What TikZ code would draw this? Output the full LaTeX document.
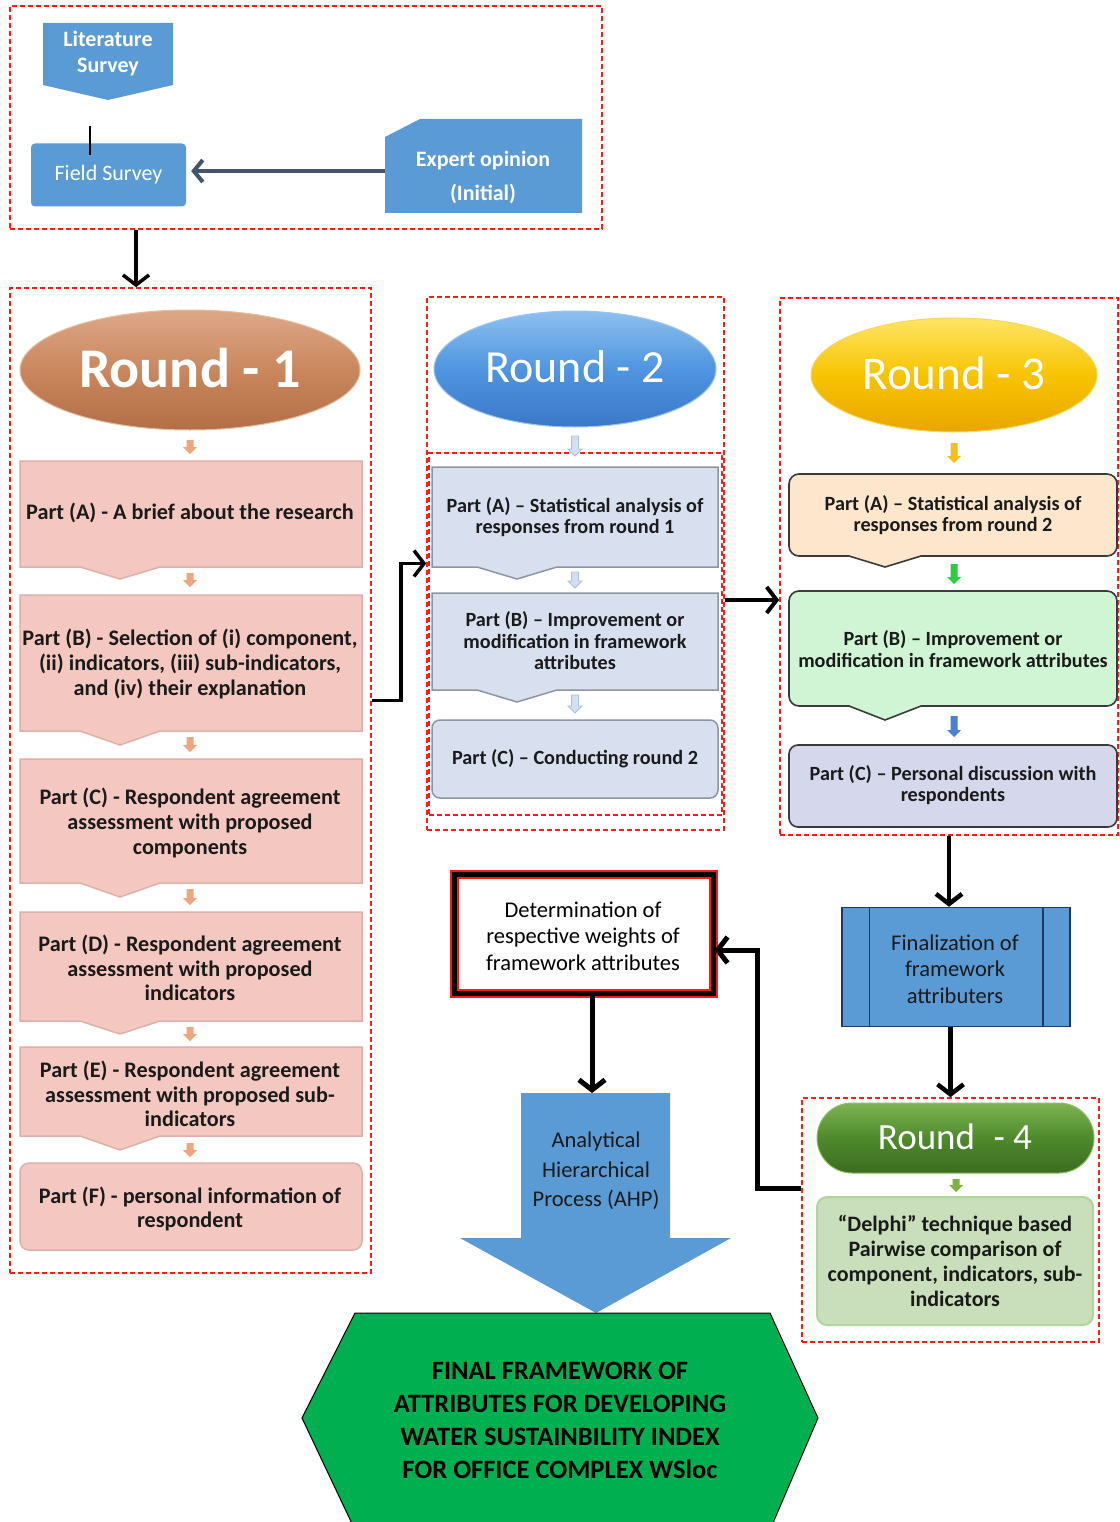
\documentclass[tikz,border=0pt]{standalone}
\usepackage{fontspec}
\setmainfont{Carlito}
\usetikzlibrary{arrows.meta,shapes.geometric,calc}
\definecolor{boxblue}{HTML}{5B9BD5}
\definecolor{slate}{HTML}{44546A}
\definecolor{ddred}{HTML}{FF1A1A}
\definecolor{pinkfill}{HTML}{F4C8C1}
\definecolor{pinkline}{HTML}{DDB0A9}
\definecolor{pinkarr}{HTML}{EFA57E}
\definecolor{bluefill}{HTML}{D8E0F0}
\definecolor{blueline}{HTML}{8E95A2}
\definecolor{palearr}{HTML}{D3E0F3}
\definecolor{palearrl}{HTML}{A8C0E4}
\definecolor{peach}{HTML}{FDE6CC}
\definecolor{mint}{HTML}{D0F5D4}
\definecolor{lav}{HTML}{D5D8EC}
\definecolor{darkline}{HTML}{3A3A3A}
\definecolor{goldarr}{HTML}{F5BE1A}
\definecolor{greenarr}{HTML}{2ECC40}
\definecolor{bluearr}{HTML}{4A7FD6}
\definecolor{smallgreen}{HTML}{7CB342}
\definecolor{delphi}{HTML}{C9DEBA}
\definecolor{delphil}{HTML}{B3D39A}
\definecolor{navy}{HTML}{1F3864}
\definecolor{finalgreen}{HTML}{00B050}
\definecolor{txt}{HTML}{1A1A1A}
\definecolor{ra}{HTML}{DDA888}
\definecolor{rb}{HTML}{C9875E}
\definecolor{rc}{HTML}{B36E46}
\definecolor{rd}{HTML}{E6BC9E}
\definecolor{ba}{HTML}{8DC0F0}
\definecolor{bb}{HTML}{4F95E0}
\definecolor{bc}{HTML}{3B78C8}
\definecolor{bd}{HTML}{9CC6EE}
\definecolor{ya}{HTML}{FFE566}
\definecolor{yb}{HTML}{F7C400}
\definecolor{yc}{HTML}{E9A600}
\definecolor{yd}{HTML}{F8D65A}
\definecolor{ga}{HTML}{7DB352}
\definecolor{gb}{HTML}{4E8A2C}
\definecolor{gc}{HTML}{3C6B20}
\definecolor{gd}{HTML}{8DBF62}
\newcommand\setfs[2]{\fontsize{#1}{#2}\selectfont}
\newcommand\notchbox[8]{\path[#8] (#1,#2) -- (#3,#2) -- (#3,#4) -- ({#5+#7},#4) -- (#5,#6) -- ({#5-#7},#4) -- (#1,#4) -- cycle;}
\newcommand\rnotchbox[8]{\path[#8] ({#5-#7},#4) [rounded corners=10pt] -- (#1,#4) -- (#1,#2) -- (#3,#2) -- (#3,#4) [sharp corners] -- ({#5+#7},#4) -- (#5,#6) -- cycle;}
\newcommand\dnarrow[4]{\path[#4] ({#1-3.5},#2) -- ({#1+3.5},#2) -- ({#1+3.5},{#3-7}) -- ({#1+7},{#3-7}) -- (#1,#3) -- ({#1-7},{#3-7}) -- ({#1-3.5},{#3-7}) -- cycle;}
\tikzset{
  dbox/.style={draw=ddred, dash pattern=on 5pt off 3pt, line width=1.6pt, inner sep=0pt},
  conn/.style={draw=black, line width=4pt, -{Straight Barb[length=10pt,width=26pt]}},
  r1txt/.style={align=center, font=\setfs{22.2}{24.8}\bfseries, text=txt},
  r2txt/.style={align=center, font=\setfs{20.2}{21.5}\bfseries, text=txt},
  roundlbl/.style={text=white, inner sep=0pt},
}
\begin{document}
\begin{tikzpicture}[x=1pt,y=-1pt]
\useasboundingbox (0,0) rectangle (1119,1522);
\fill[white] (0,0) rectangle (1119,1522);

% ---------- top block ----------
\node[dbox, minimum width=592pt, minimum height=223pt] (topbox) at (306,117.5) {};
\path[fill=boxblue] (43,23) -- (173,23) -- (173,85) -- (108,100) -- (43,85) -- cycle;
\node[align=center, text=white, font=\setfs{22}{26}\bfseries] (lit) at (108,54) {Literature\\Survey};
\node[fill=boxblue, rounded corners=4pt, minimum width=155pt, minimum height=63pt, text=white, font=\setfs{22}{24}] (field) at (108.5,175) {Field Survey};
\draw[black, line width=1.2pt] (90,126) -- (90,155);
\node[minimum width=197pt, minimum height=94pt, inner sep=0pt] (expert) at (483.5,166) {};
\path[fill=boxblue] (385,137) -- (420,119) -- (582,119) -- (582,213) -- (385,213) -- cycle;
\node[align=center, text=white, font=\setfs{22}{34}\bfseries] (experttxt) at (483,177) {Expert opinion\\(Initial)};
\draw[draw=slate, line width=4pt, -{Straight Barb[length=9pt,width=22pt]}, shorten >=5pt]
  ([yshift=-5pt]expert.west) coordinate (ea) -- (ea -| field.east);

% ---------- Round 1 ----------
\node[dbox, minimum width=361pt, minimum height=985pt] (r1box) at (190.5,780.5) {};
\node[ellipse, minimum width=340pt, minimum height=120pt, top color=ra, bottom color=rc, middle color=rb, draw=rd, line width=1pt] (r1) at (190,370) {};
\node[roundlbl, font=\setfs{56}{60}\bfseries] (r1t) at (190,368) {Round - 1};
\dnarrow{190}{440}{454}{fill=pinkarr}
\notchbox{20}{461}{362}{567}{120}{579}{40}{fill=pinkfill, draw=pinkline, line width=1.5pt}
\node[r1txt] (p1a) at (190,513) {Part (A) - A brief about the research};
\dnarrow{190}{573}{587}{fill=pinkarr}
\notchbox{20}{595}{362}{731}{120}{745}{40}{fill=pinkfill, draw=pinkline, line width=1.5pt}
\node[r1txt] (p1b) at (190,664) {Part (B) - Selection of (i) component,\\(ii) indicators, (iii) sub-indicators,\\and (iv) their explanation};
\dnarrow{190}{737}{752}{fill=pinkarr}
\notchbox{20}{759}{362}{883}{120}{897}{40}{fill=pinkfill, draw=pinkline, line width=1.5pt}
\node[r1txt] (p1c) at (190,823) {Part (C) - Respondent agreement\\assessment with proposed\\components};
\dnarrow{190}{889}{905}{fill=pinkarr}
\notchbox{20}{912}{362}{1021}{120}{1034}{40}{fill=pinkfill, draw=pinkline, line width=1.5pt}
\node[r1txt] (p1d) at (190,968) {Part (D) - Respondent agreement\\assessment with proposed\\indicators};
\dnarrow{190}{1027}{1041}{fill=pinkarr}
\notchbox{20}{1047}{362}{1136}{120}{1150}{40}{fill=pinkfill, draw=pinkline, line width=1.5pt}
\node[r1txt] (p1e) at (190,1094) {Part (E) - Respondent agreement\\assessment with proposed sub-\\indicators};
\dnarrow{190}{1143}{1157}{fill=pinkarr}
\node[fill=pinkfill, draw=pinkline, line width=1.5pt, rounded corners=9pt, minimum width=342pt, minimum height=87pt] (p1fbox) at (191,1206.5) {};
\node[r1txt] (p1f) at (190,1209) {Part (F) - personal information of\\respondent};

% ---------- Round 2 ----------
\node[dbox, minimum width=297pt, minimum height=533pt] (r2box) at (575.5,563.5) {};
\node[dbox, minimum width=293pt, minimum height=362pt] (r2inner) at (575.5,634) {};
\node[ellipse, minimum width=282pt, minimum height=116pt, top color=ba, bottom color=bc, middle color=bb, draw=bd, line width=1pt] (r2) at (575,369) {};
\node[roundlbl, font=\setfs{46}{50}] (r2t) at (575,367) {Round - 2};
\dnarrow{575}{436}{456}{fill=palearr, draw=palearrl, line width=0.8pt}
\notchbox{432}{467}{718}{567}{517}{579}{40}{fill=bluefill, draw=blueline, line width=1.5pt}
\node[r2txt] (p2a) at (575,517) {Part (A) – Statistical analysis of\\responses from round 1};
\dnarrow{575}{572}{588}{fill=palearr, draw=palearrl, line width=0.8pt}
\notchbox{432}{593}{718}{690}{517}{702}{40}{fill=bluefill, draw=blueline, line width=1.5pt}
\node[r2txt] (p2b) at (575,641) {Part (B) – Improvement or\\modification in framework\\attributes};
\dnarrow{575}{695}{713}{fill=palearr, draw=palearrl, line width=0.8pt}
\node[fill=bluefill, draw=blueline, line width=1.5pt, rounded corners=8pt, minimum width=286pt, minimum height=78pt] (p2cbox) at (575,759) {};
\node[r2txt] (p2c) at (575,759) {Part (C) – Conducting round 2};

% ---------- Round 3 ----------
\node[dbox, minimum width=338pt, minimum height=537pt] (r3box) at (949,566.5) {};
\node[ellipse, minimum width=286pt, minimum height=114pt, top color=ya, bottom color=yc, middle color=yb, draw=yd, line width=1pt] (r3) at (954,375) {};
\node[roundlbl, font=\setfs{47}{50}] (r3t) at (954,373) {Round - 3};
\dnarrow{954}{443}{463}{fill=goldarr}
\rnotchbox{789}{474}{1117}{556}{885}{567}{36}{fill=peach, draw=darkline, line width=1.6pt}
\node[r2txt] (p3a) at (953,515) {Part (A) – Statistical analysis of\\responses from round 2};
\dnarrow{954}{564}{584}{fill=greenarr}
\rnotchbox{789}{591}{1117}{706}{885}{720}{36}{fill=mint, draw=darkline, line width=1.6pt}
\node[r2txt] (p3b) at (953,649) {Part (B) – Improvement or\\modification in framework attributes};
\dnarrow{954}{716}{737}{fill=bluearr}
\node[fill=lav, draw=darkline, line width=1.6pt, rounded corners=9pt, minimum width=328pt, minimum height=82pt] (p3cbox) at (953,786) {};
\node[r2txt] (p3c) at (953,785) {Part (C) – Personal discussion with\\respondents};

% ---------- Finalization / Determination ----------
\node[fill=boxblue, draw=navy, line width=1.5pt, minimum width=228pt, minimum height=119pt] (fin) at (956,967) {};
\draw[navy, line width=1.5pt] ([xshift=28pt]fin.north west) -- ([xshift=28pt]fin.south west);
\draw[navy, line width=1.5pt] ([xshift=-28pt]fin.north east) -- ([xshift=-28pt]fin.south east);
\node[align=center, text=txt, font=\setfs{22.5}{26.5}] (fintxt) at (955,969) {Finalization of\\framework\\attributers};

\node[fill=white, draw=ddred, line width=1.8pt, double=black, double distance=5.5pt, minimum width=259pt, minimum height=119pt] (det) at (584,934) {};
\node[align=center, text=black, font=\setfs{22.5}{26.5}] (dettxt) at (583,936) {Determination of\\respective weights of\\framework attributes};

% ---------- AHP ----------
\path[fill=boxblue] (521,1093) -- (670,1093) -- (670,1238) -- (731,1238) -- (596,1313) -- (460,1238) -- (521,1238) -- cycle;
\coordinate (ahptop) at (592,1093);
\node[align=center, text=txt, font=\setfs{22.5}{29.5}] (ahp) at (596,1171) {Analytical\\Hierarchical\\Process (AHP)};

% ---------- Round 4 ----------
\node[dbox, minimum width=297pt, minimum height=244pt] (r4box) at (950.5,1220) {};
\node[rounded corners=35pt, minimum width=277pt, minimum height=70pt, top color=ga, bottom color=gc, middle color=gb, draw=gd, line width=1pt] (r4) at (955.5,1138) {};
\node[roundlbl, font=\setfs{37}{40}] (r4t) at (955,1137) {Round\enspace- 4};
\dnarrow{956}{1179}{1192}{fill=smallgreen}
\node[fill=delphi, draw=delphil, line width=2pt, rounded corners=10pt, minimum width=276pt, minimum height=128pt] (delbox) at (955,1261) {};
\node[align=center, text=txt, font=\setfs{22}{25}\bfseries] (del) at (955,1261) {“Delphi” technique based\\Pairwise comparison of\\component, indicators, sub-\\indicators};

% ---------- Final hexagon ----------
\path[fill=finalgreen, draw=black, line width=1pt] (355,1313) -- (770,1313) -- (818,1418) -- (770,1530) -- (355,1530) -- (302,1418) -- cycle;
\node[align=center, text=black, font=\setfs{26.5}{33}\bfseries] (final) at (560,1420) {FINAL FRAMEWORK OF\\ATTRIBUTES FOR DEVELOPING\\WATER SUSTAINBILITY INDEX\\FOR OFFICE COMPLEX WSloc};

% ---------- connectors ----------
\draw[conn, line width=3.5pt] ([xshift=-170pt]topbox.south) -- ([xshift=-54.5pt]r1box.north);
\draw[conn, line width=3.5pt] ([yshift=80pt]r1box.east) -- ++(29,0) |- (r2box.west);
\draw[conn] ([yshift=-36.5pt]r2box.east) coordinate (rbx) -- (rbx -| r3box.west);
\draw[conn, line width=4.5pt] (r3box.south) -- (r3box.south |- fin.north);
\draw[conn, line width=4.5pt] (r4box.north |- fin.south) -- (r4box.north);
\draw[conn, line width=5pt] ([yshift=32pt]r4box.west) -- ++(-44,0) |- ([yshift=-16pt]det.east);
\draw[conn, line width=5pt] (det.south -| ahptop) -- (ahptop);
\end{tikzpicture}
\end{document}
